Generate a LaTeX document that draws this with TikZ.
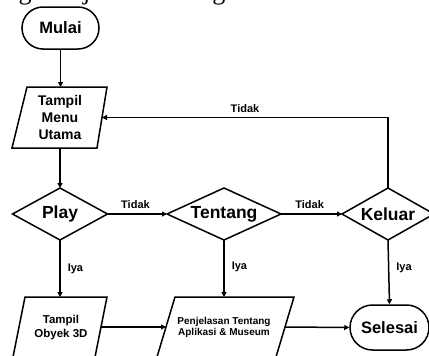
\documentclass[tikz,border=0pt]{standalone}
\usepackage{fontspec}
\setmainfont{Liberation Sans}
\newfontfamily\seriffont{Liberation Serif}
\usetikzlibrary{arrows.meta,shapes.misc,calc}
\begin{document}
\begin{tikzpicture}[x=1pt,y=-1pt,
  ln/.style={line width=1.5pt, black, line join=miter},
  arr/.style={ln, -{Triangle[length=5pt,width=5pt]}},
  term/.style={draw, line width=1.5pt, rounded rectangle, inner sep=0pt, font=\bfseries\fontsize{16.5}{18}\selectfont},
  dtext/.style={inner sep=0pt, font=\bfseries\fontsize{17.5}{20}\selectfont},
  ptext/.style={inner sep=0pt, align=center},
  lbl/.style={inner sep=0pt, font=\bfseries\fontsize{11}{13}\selectfont}]
\useasboundingbox (0,0) rectangle (429,356);
\clip (0,0) rectangle (429,356);
\fill[white] (0,0) rectangle (429,356);

% clipped caption line from the source page
\node[anchor=base west, inner sep=0pt, font=\seriffont\fontsize{26}{26}\selectfont] (cap) at (-6,-0.5) {angan dijelaskan dengan detail melalui Flow.};

% terminals
\node[term, minimum width=77pt, minimum height=42pt] (mulai) at (60.5,28) {Mulai};
\node[term, minimum width=79pt, minimum height=45pt] (selesai) at (389.5,327.5) {Selesai};

% Tampil Menu Utama
\node[ptext, font=\bfseries\fontsize{14}{17}\selectfont] (menu) at (60,117.5) {Tampil\\Menu\\Utama};
\draw[ln] (27,87) -- (107,87) -- (97,148) -- (12,148) -- cycle;
\coordinate (menu-t) at (60.5,87);
\coordinate (menu-b) at (60,148);
\coordinate (menu-e) at (102,117.5);

% diamonds
\node[dtext] (play) at (60,214) {Play};
\draw[ln] ($(play)+(-47.5,0)$) coordinate (play-w) -- ($(play)+(0,-26)$) coordinate (play-n)
  -- ($(play)+(47.5,0)$) coordinate (play-e) -- ($(play)+(0,26)$) coordinate (play-s) -- cycle;
\node[dtext] (tentang) at (224,214) {Tentang};
\draw[ln] ($(tentang)+(-57,0)$) coordinate (tentang-w) -- ($(tentang)+(0,-26)$) coordinate (tentang-n)
  -- ($(tentang)+(57,0)$) coordinate (tentang-e) -- ($(tentang)+(0,26)$) coordinate (tentang-s) -- cycle;
\node[dtext] (keluar) at (388,214) {Keluar};
\draw[ln] ($(keluar)+(-46,0)$) coordinate (keluar-w) -- ($(keluar)+(0,-26)$) coordinate (keluar-n)
  -- ($(keluar)+(46,0)$) coordinate (keluar-e) -- ($(keluar)+(0,26)$) coordinate (keluar-s) -- cycle;

% Tampil Obyek 3D
\node[ptext, font=\bfseries\fontsize{11.5}{14}\selectfont] (obyek) at (61,328) {Tampil\\Obyek 3D};
\draw[ln] (25,297) -- (107,297) -- (95,357) -- (13,357) -- cycle;
\coordinate (obyek-t) at (60,297);
\coordinate (obyek-e) at (101,327);

% Penjelasan
\node[ptext, font=\bfseries\fontsize{10}{11}\selectfont] (penj) at (224,327.5) {Penjelasan Tentang\\Aplikasi \& Museum};
\draw[ln] (175,297) -- (294,297) -- (276,357) -- (157,357) -- cycle;
\coordinate (penj-t) at (224,297);
\coordinate (penj-w) at (166,327);
\coordinate (penj-e) at (285,327);

% connectors
\draw[arr] (mulai.south) -- (menu-t);
\draw[arr] (menu-b) -- (play-n);
\draw[arr] (play-e) -- node[lbl, above=5pt, pos=0.47] (t1) {Tidak} (tentang-w);
\draw[arr] (tentang-e) -- node[lbl, above=5pt, pos=0.47] (t2) {Tidak} (keluar-w);
\draw[arr] (keluar-n) |- node[lbl, pos=0.75, above=4pt] (t3) {Tidak} (menu-e);
\draw[arr] (play-s) -- node[lbl, right=7pt, pos=0.5] (i1) {Iya} (obyek-t);
\draw[arr] (tentang-s) -- node[lbl, right=7pt, pos=0.47] (i2) {Iya} (penj-t);
\draw[arr] (keluar-s) -- node[lbl, right=7pt, pos=0.43] (i3) {Iya} (selesai.north);
\draw[arr] (obyek-e) -- (penj-w);
\draw[arr] (penj-e) -- (selesai.west);
\end{tikzpicture}
\end{document}
